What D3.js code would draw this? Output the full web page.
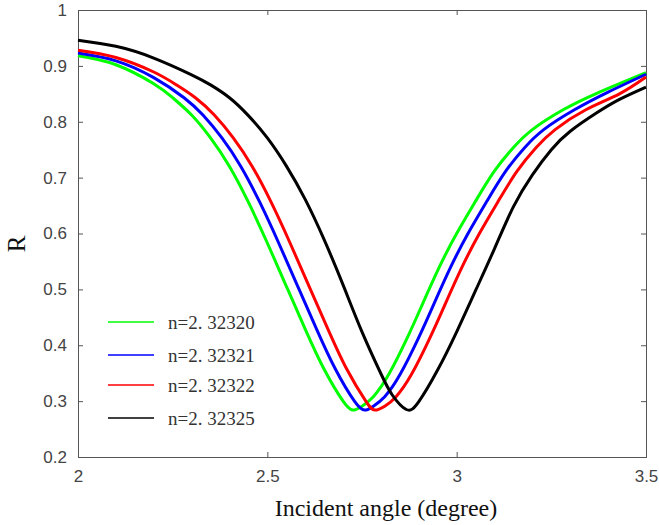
<!DOCTYPE html>
<html>
<head>
<meta charset="utf-8">
<script src="https://cdn.jsdelivr.net/npm/d3@7"></script>
<style>
  body { margin: 0; background: #fff; }
  svg { display: block; }
  .tick text { font-family: "Liberation Sans", Arial, sans-serif; font-size: 17px; fill: #444; }
  .domain, .tick line { stroke: #555; }
</style>
</head>
<body>
<svg id="chart" width="659" height="525"></svg>
<script>
// values: [incident angle (degree), R]
var green = [[2.00,0.918],[2.10,0.902],[2.20,0.868],[2.25,0.843],[2.30,0.812],[2.35,0.771],[2.40,0.720],
  [2.45,0.656],[2.50,0.583],[2.55,0.506],[2.60,0.429],[2.65,0.357],[2.70,0.300],[2.726,0.284],[2.75,0.291],
  [2.78,0.308],[2.82,0.347],[2.87,0.414],[2.91,0.474],[2.955,0.541],[3.00,0.600],[3.05,0.658],[3.10,0.712],
  [3.15,0.754],[3.20,0.786],[3.28,0.821],[3.37,0.851],[3.50,0.888]];
var blue = [[2.00,0.923],[2.10,0.909],[2.20,0.879],[2.28,0.843],[2.33,0.812],[2.38,0.771],[2.43,0.720],
  [2.48,0.656],[2.53,0.583],[2.58,0.506],[2.63,0.429],[2.68,0.357],[2.73,0.300],[2.757,0.284],[2.78,0.291],
  [2.81,0.308],[2.85,0.347],[2.90,0.414],[2.94,0.474],[2.985,0.541],[3.03,0.600],[3.08,0.658],[3.13,0.712],
  [3.18,0.754],[3.23,0.786],[3.31,0.821],[3.40,0.853],[3.50,0.885]];
var red = [[2.00,0.928],[2.10,0.915],[2.20,0.889],[2.26,0.866],[2.31,0.843],[2.36,0.812],[2.41,0.771],
  [2.46,0.720],[2.51,0.656],[2.56,0.583],[2.61,0.506],[2.66,0.429],[2.71,0.357],[2.76,0.300],[2.784,0.284],
  [2.81,0.291],[2.84,0.308],[2.88,0.347],[2.93,0.414],[2.97,0.474],[3.015,0.541],[3.06,0.600],[3.11,0.658],
  [3.16,0.712],[3.21,0.754],[3.26,0.786],[3.34,0.821],[3.43,0.850],[3.50,0.880]];
var black = [[2.00,0.946],[2.10,0.935],[2.20,0.914],[2.30,0.884],[2.35,0.866],[2.40,0.843],[2.45,0.811],
  [2.50,0.771],[2.55,0.721],[2.60,0.661],[2.65,0.589],[2.70,0.508],[2.75,0.424],[2.80,0.349],[2.83,0.311],
  [2.867,0.285],[2.90,0.299],[2.95,0.356],[3.00,0.424],[3.05,0.498],[3.10,0.573],[3.15,0.648],[3.20,0.705],
  [3.25,0.750],[3.30,0.783],[3.37,0.816],[3.43,0.840],[3.50,0.862]];

var labels = ["n=2. 32320", "n=2. 32321", "n=2. 32322", "n=2. 32325"];
var colors = ["#00ff00", "#0000ff", "#ff0000", "#000000"];
var xTicks = [2, 2.5, 3, 3.5];
var yTicks = [0.2, 0.3, 0.4, 0.5, 0.6, 0.7, 0.8, 0.9, 1];

var series = [green, blue, red, black];

var svg = d3.select("#chart");
// note: "top" is taken by window.top, so plot edges get their own names
var plotLeft = 78, plotRight = 646, plotTop = 10, plotBottom = 457;

var x = d3.scaleLinear().domain([2, 3.5]).range([plotLeft, plotRight]);
var y = d3.scaleLinear().domain([0.2, 1]).range([plotBottom, plotTop]);

// axes, MATLAB style: ticks inside, box on
svg.append("g")
  .attr("transform", `translate(0,${plotBottom})`)
  .call(d3.axisBottom(x).tickValues(xTicks).tickSize(-5).tickPadding(13).tickFormat(d3.format("")));
svg.append("g")
  .attr("transform", `translate(${plotLeft},0)`)
  .call(d3.axisLeft(y).tickValues(yTicks).tickSize(-5).tickPadding(11).tickFormat(d3.format("")));
svg.append("g")
  .attr("transform", `translate(0,${plotTop})`)
  .call(d3.axisTop(x).tickValues(xTicks).tickSize(-5).tickFormat(""));
svg.append("g")
  .attr("transform", `translate(${plotRight},0)`)
  .call(d3.axisRight(y).tickValues(yTicks).tickSize(-5).tickFormat(""));

var line = d3.line()
  .x(d => x(d[0]))
  .y(d => y(d[1]))
  .curve(d3.curveNatural);

svg.selectAll("path.series")
  .data(series)
  .enter()
  .append("path")
  .attr("class", "series")
  .attr("fill", "none")
  .attr("stroke", (d, i) => colors[i])
  .attr("stroke-width", 3)
  .attr("d", line);

// legend (no box)
var legendY = [322, 355, 385, 418];
var legend = svg.selectAll("g.legend")
  .data(labels)
  .enter()
  .append("g")
  .attr("class", "legend")
  .attr("transform", (d, i) => `translate(108,${legendY[i]})`);
legend.append("line")
  .attr("x1", 0).attr("x2", 46)
  .attr("stroke", (d, i) => colors[i])
  .attr("stroke-width", 1.5);
legend.append("text")
  .attr("x", 60)
  .attr("dy", "0.35em")
  .attr("font-family", "'Liberation Serif', 'Times New Roman', serif")
  .attr("font-size", 19)
  .attr("fill", "#333")
  .text(d => d);

svg.append("text")
  .attr("x", 386)
  .attr("y", 516)
  .attr("text-anchor", "middle")
  .attr("font-family", "'Liberation Serif', 'Times New Roman', serif")
  .attr("font-size", 24)
  .attr("fill", "#111")
  .text("Incident angle (degree)");

svg.append("text")
  .attr("transform", "translate(25,244) rotate(-90)")
  .attr("text-anchor", "middle")
  .attr("font-family", "'Liberation Serif', 'Times New Roman', serif")
  .attr("font-size", 25)
  .attr("fill", "#111")
  .text("R");
</script>
</body>
</html>
